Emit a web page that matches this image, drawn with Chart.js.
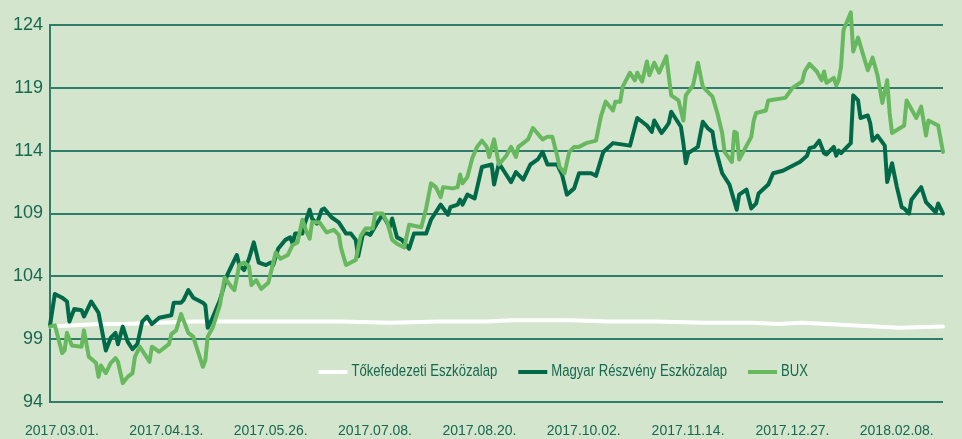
<!DOCTYPE html>
<html>
<head>
<meta charset="utf-8">
<script src="https://cdn.jsdelivr.net/npm/chart.js@4/dist/chart.umd.min.js"></script>
<style>
  html, body { margin: 0; padding: 0; background: #d3e5cd; }
  #wrap { width: 962px; height: 439px; position: relative; }
</style>
</head>
<body>
<div id="wrap"><canvas id="chart"></canvas></div>
<script>
// x values are calendar days counted from 2017.03.01.
const tickDays = [0, 43, 86, 129, 172, 215, 258, 301, 344];
const tickLabels = ["2017.03.01.", "2017.04.13.", "2017.05.26.", "2017.07.08.", "2017.08.20.",
  "2017.10.02.", "2017.11.14.", "2017.12.27.", "2018.02.08."];
const yTicks = [94, 99, 104, 109, 114, 119, 124];

const seriesNames = ["Tőkefedezeti Eszközalap", "Magyar Részvény Eszközalap", "BUX"];

const tokeDays = [0, 10, 20, 30, 45, 60, 80, 100, 120, 140, 160, 180, 190, 200, 215, 230, 250, 270, 290, 300, 310, 320, 330, 340, 350, 368];
const tokeValues = [100.0, 100.1, 100.2, 100.2, 100.3, 100.4, 100.4, 100.4, 100.4, 100.3, 100.4, 100.4, 100.5, 100.5, 100.5, 100.4, 100.4, 100.3, 100.3, 100.2, 100.3, 100.2, 100.1, 100.0, 99.9, 100.0];

const mreDays = [0, 2, 5, 7, 8, 10, 13, 14, 17, 20, 23, 25, 27, 28, 30, 32, 34, 36, 38, 40, 42, 45, 50, 51, 54, 55, 57, 59, 63, 64, 65, 67, 70, 73, 77, 78, 80, 82, 84, 86, 89, 91, 92, 94, 97, 99, 100, 101, 104, 105, 107, 108, 110, 112, 113, 116, 119, 122, 124, 126, 127, 129, 131,
  132, 135, 137, 140, 141, 143, 145, 148, 150, 155, 157, 161, 164, 165, 168, 169, 170, 172, 175, 178, 182, 183, 185, 190, 192, 195, 198, 201, 203, 205, 209, 211, 213, 216, 218, 223, 225, 228, 232, 239, 242, 246, 248, 249,
  252, 254, 255, 256, 260, 261, 262, 263, 267, 269, 271, 273, 274, 277, 280, 283, 284, 287, 289, 291, 292, 296, 298, 302, 305, 309, 312, 313, 315, 317, 319, 320, 323, 324, 325, 326, 330, 331, 333, 334, 337, 338, 339, 341, 344, 345, 347, 349, 351, 352, 354, 355, 359, 361, 365, 366, 368];
const mreValues = [100.1, 102.6, 102.3, 102.0, 100.4, 101.4, 101.3, 100.8, 102.0, 101.1, 98.1, 99.1, 99.5, 98.6, 100.0, 98.8, 98.2, 98.6, 100.4, 100.8, 100.2, 100.7, 100.9, 101.9, 101.9, 102.1, 102.9, 102.3, 101.9, 101.7, 99.9, 100.7, 102.1, 104.1, 105.7, 104.9, 104.5, 105.4, 106.7, 105.1, 104.9, 105.1, 104.9, 106.2, 106.9, 107.1, 106.6, 107.4, 107.4, 108.2, 109.3, 108.6, 108.2, 109.3, 109.4, 108.7, 108.3, 107.4, 107.4, 106.9, 105.6, 107.4, 107.4,
  107.3, 108.3, 108.9, 107.9, 108.6, 107.1, 106.9, 106.2, 107.4, 107.4, 108.5, 109.7, 108.9, 109.5, 109.7, 110.1, 109.7, 110.5, 110.2, 112.7, 112.9, 111.3, 113.0, 111.5, 112.3, 111.7, 112.9, 113.3, 113.9, 112.9, 112.9, 112.1, 110.5, 111.0, 112.2, 112.2, 112.0, 113.9, 114.6, 114.4, 116.6, 116.0, 115.5, 116.4,
  115.4, 115.9, 116.2, 117.1, 115.9, 114.6, 113.0, 113.8, 114.3, 116.3, 115.8, 115.5, 114.3, 112.2, 111.3, 109.3, 110.5, 110.9, 109.4, 109.8, 110.6, 111.3, 112.2, 112.4, 112.7, 113.1, 113.6, 114.2, 114.3, 114.8, 113.8, 113.7, 114.3, 113.6, 114.0, 113.8, 114.6, 118.4, 118.0, 116.6, 116.8, 116.2, 114.8, 115.2, 114.4, 111.5, 113.0, 111.1, 109.5, 109.4, 109.0, 110.1, 111.1, 109.9, 109.1, 109.8, 109.0];

const buxDays = [0, 2, 5, 6, 7, 9, 13, 14, 16, 19, 20, 21, 23, 25, 27, 28, 30, 32, 34, 35, 37, 41, 42, 45, 49, 50, 52, 54, 57, 59, 63, 64, 65, 67, 70, 72, 75, 76, 78, 80, 82, 83, 85, 87, 90, 93, 95, 98, 100, 102, 104, 106, 107, 108, 111, 114, 117, 119, 120, 122, 124, 126, 128,
  130, 133, 134, 137, 139, 141, 143, 146, 148, 153, 155, 157, 159, 161, 162, 166, 168, 169, 170, 172, 174, 176, 178, 180, 181, 183, 185, 188, 190, 192, 193, 197, 199, 203, 205, 207, 209, 210, 212, 214, 216, 218, 221, 225, 227, 229, 232, 233, 235, 236, 239, 241, 242, 244, 246, 247, 249, 251,
  254, 256, 259, 261, 262, 265, 267, 269, 273, 275, 277, 278, 281, 282, 283, 284, 289, 290, 291, 295, 296, 303, 306, 310, 311, 313, 316, 318, 319, 320, 323, 324, 325, 326, 327, 330, 331, 333, 337, 339, 341, 343, 345, 346, 347, 352, 353, 357, 359, 361, 362, 366, 368];
const buxValues = [100.0, 100.1, 97.9, 98.1, 99.5, 98.5, 98.4, 99.7, 97.6, 97.1, 96.0, 96.9, 96.3, 97.1, 97.5, 97.2, 95.5, 96.0, 96.3, 97.6, 98.4, 97.2, 98.4, 98.0, 98.6, 99.4, 99.7, 101.0, 99.5, 99.2, 96.8, 97.3, 99.2, 99.9, 101.7, 103.9, 103.1, 102.9, 104.9, 105.1, 104.8, 103.3, 103.7, 103.0, 103.5, 105.9, 105.4, 105.7, 106.5, 106.7, 108.5, 107.4, 107.0, 108.3, 108.3, 107.5, 107.7, 107.3, 106.2, 104.9, 105.1, 105.3, 107.2,
  107.8, 107.8, 109.0, 109.0, 108.3, 106.9, 106.6, 106.3, 108.1, 107.9, 109.4, 111.4, 111.1, 110.3, 111.1, 111.0, 111.1, 112.1, 111.4, 111.9, 113.4, 114.3, 114.8, 114.3, 113.5, 114.9, 112.9, 113.6, 114.3, 113.5, 114.3, 114.9, 115.8, 114.9, 115.1, 115.1, 113.6, 112.7, 112.2, 113.9, 114.3, 114.3, 114.6, 114.8, 116.7, 117.9, 117.2, 117.9, 117.9, 119.1, 120.2, 119.6, 120.2, 119.5, 121.1, 120.0, 121.0, 120.2,
  121.5, 118.4, 118.0, 116.4, 118.4, 119.2, 121.0, 119.1, 118.3, 117.0, 115.4, 113.9, 113.1, 115.5, 115.4, 113.3, 115.1, 116.4, 117.0, 117.2, 118.0, 118.2, 119.0, 119.5, 120.3, 120.9, 120.3, 119.6, 120.3, 119.4, 119.8, 119.2, 119.6, 120.7, 123.6, 125.0, 121.9, 123.0, 120.4, 121.4, 120.0, 117.8, 119.6, 117.0, 115.4, 116.0, 118.0, 116.6, 117.5, 115.2, 116.4, 116.0, 113.9];

const toPoints = (days, values) => days.map((d, i) => ({ x: d, y: values[i] }));

const gridColor = "#2f7c69";
const textColor = "#17684f";

// legend drawn inside the plot, just above the bottom gridline (text squeezed like a narrow face)
const insideLegend = {
  id: "insideLegend",
  afterDraw(chart) {
    const ctx = chart.ctx;
    const y = 372;
    const sample = 29, gap = 4, spacing = 21, squeeze = 0.82;
    ctx.save();
    ctx.font = "16px 'Liberation Sans', sans-serif";
    ctx.textBaseline = "middle";
    const items = chart.data.datasets.map(ds => ({ label: ds.label, color: ds.borderColor }));
    let x = 808;
    for (let i = items.length - 1; i >= 0; i--) {
      const w = ctx.measureText(items[i].label).width * squeeze;
      items[i].textX = x - w;
      items[i].lineX = x - w - gap - sample;
      x = items[i].lineX - spacing;
    }
    items.forEach(it => {
      ctx.strokeStyle = it.color;
      ctx.lineWidth = 4;
      ctx.beginPath();
      ctx.moveTo(it.lineX, y);
      ctx.lineTo(it.lineX + sample, y);
      ctx.stroke();
      ctx.save();
      ctx.translate(it.textX, y);
      ctx.scale(squeeze, 1);
      ctx.fillStyle = textColor;
      ctx.fillText(it.label, 0, 0);
      ctx.restore();
    });
    ctx.restore();
  }
};

const ctx = document.getElementById("chart").getContext("2d");
new Chart(ctx, {
  type: "line",
  data: {
    datasets: [
      { label: seriesNames[0], data: toPoints(tokeDays, tokeValues), borderColor: "#ffffff", order: 3 },
      { label: seriesNames[1], data: toPoints(mreDays, mreValues), borderColor: "#006a48", order: 2 },
      { label: seriesNames[2], data: toPoints(buxDays, buxValues), borderColor: "#67b85f", order: 1 }
    ]
  },
  options: {
    responsive: true,
    maintainAspectRatio: false,
    animation: false,
    layout: { padding: { top: 25, right: 19, left: 0, bottom: 0 } },
    elements: {
      line: { borderWidth: 4, tension: 0, borderJoinStyle: "round", borderCapStyle: "round" },
      point: { radius: 0 }
    },
    datasets: { line: { clip: false } },
    plugins: { legend: { display: false }, tooltip: { enabled: false } },
    scales: {
      x: {
        type: "linear",
        min: 0,
        max: 368,
        afterBuildTicks: (scale) => { scale.ticks = tickDays.map(v => ({ value: v })); },
        afterFit: (scale) => { scale.height = 37; scale.paddingLeft = 0; scale.paddingRight = 0; },
        grid: { display: false, drawTicks: false },
        border: { display: false },
        ticks: {
          autoSkip: false,
          maxRotation: 0,
          padding: 21,
          labelOffset: 12,
          color: textColor,
          font: { family: "'Liberation Sans', sans-serif", size: 14 },
          callback: (value, index) => tickLabels[index]
        }
      },
      y: {
        min: 94,
        max: 124,
        afterBuildTicks: (scale) => { scale.ticks = yTicks.map(v => ({ value: v })); },
        afterFit: (scale) => { scale.width = 50; },
        grid: { color: gridColor, lineWidth: 2, drawTicks: false },
        border: { display: true, color: gridColor, width: 2 },
        ticks: {
          padding: 7,
          color: textColor,
          font: { family: "'Liberation Sans', sans-serif", size: 18 }
        }
      }
    }
  },
  plugins: [insideLegend]
});
</script>
</body>
</html>
